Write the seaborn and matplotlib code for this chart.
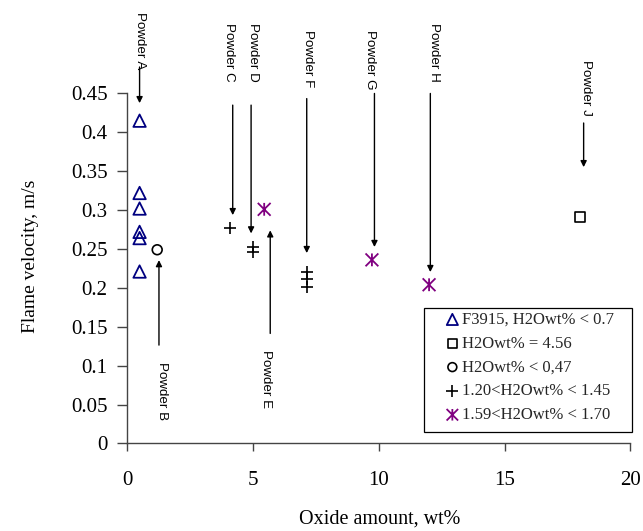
import numpy as np
import pandas as pd
import matplotlib
matplotlib.use("Agg")
import matplotlib.pyplot as plt
from matplotlib.path import Path
from matplotlib.patches import Rectangle
import seaborn as sns

# ---------------- data ----------------
tri_x = [0.5, 0.5, 0.5, 0.5, 0.5, 0.5]
tri_y = [0.415, 0.322, 0.302, 0.272, 0.264, 0.221]
sq_x = [18.0]
sq_y = [0.291]
circ_x = [1.2]
circ_y = [0.249]
plus_x = [4.1, 5.0, 5.0, 7.15, 7.15, 7.15]
plus_y = [0.277, 0.253, 0.246, 0.220, 0.212, 0.201]
star_x = [5.45, 9.73, 12.0]
star_y = [0.301, 0.236, 0.204]

series_labels = ["F3915, H2Owt% < 0.7", "H2Owt% = 4.56", "H2Owt% < 0,47",
                 "1.20<H2Owt% < 1.45", "1.59<H2Owt% < 1.70"]

x_ticks = [0, 5, 10, 15, 20]
y_ticks = [0, 0.05, 0.1, 0.15, 0.2, 0.25, 0.3, 0.35, 0.4, 0.45]
y_tick_labels = ["0", "0.05", "0.1", "0.15", "0.2", "0.25", "0.3", "0.35", "0.4", "0.45"]

# annotations: label, text x, text top y, arrow x, arrow tail y, arrow tip y
ann_labels = ["Powder A", "Powder C", "Powder D", "Powder F", "Powder G",
              "Powder H", "Powder J", "Powder B", "Powder E"]
ann_text_x = [0.5, 4.07, 5.02, 7.21, 9.66, 12.18, 18.25, 1.38, 5.53]
ann_text_y = [0.5545, 0.5404, 0.5404, 0.5312, 0.5312, 0.540, 0.4928, 0.1049, 0.12]
ann_arrow_x = [0.5, 4.2, 4.93, 7.14, 9.83, 12.05, 18.14, 1.27, 5.69]
ann_tail_y = [0.484, 0.435, 0.435, 0.4434, 0.450, 0.450, 0.412, 0.1264, 0.1414]
ann_tip_y = [0.4375, 0.2935, 0.270, 0.2447, 0.2525, 0.2203, 0.3552, 0.2357, 0.274]

# ---------------- style ----------------
sns.set_theme(style="ticks")
plt.rcParams["font.family"] = ["Liberation Serif", "DejaVu Serif"]

fig = plt.figure(figsize=(6.43, 5.31), dpi=100)
ax = fig.add_axes([0.1975, 0.165, 0.783, 0.659])

axis_col = "#444444"
navy = "#000080"
purple = "#800080"

star_path = Path([(-1, -1), (1, 1), (-1, 1), (1, -1), (0, -1), (0, 1)],
                 [Path.MOVETO, Path.LINETO, Path.MOVETO, Path.LINETO, Path.MOVETO, Path.LINETO])

sns.scatterplot(x=tri_x, y=tri_y, ax=ax, marker="^", s=80, color=navy,
                facecolor="none", edgecolor=navy, linewidth=1.3, label=series_labels[0])
sns.scatterplot(x=sq_x, y=sq_y, ax=ax, marker="s", s=58, color="black",
                facecolor="none", edgecolor="black", linewidth=1.2, label=series_labels[1])
sns.scatterplot(x=circ_x, y=circ_y, ax=ax, marker="o", s=50, color="black",
                facecolor="none", edgecolor="black", linewidth=1.2, label=series_labels[2])
sns.scatterplot(x=plus_x, y=plus_y, ax=ax, marker="+", s=78, color="black",
                linewidth=1.2, label=series_labels[3])
sns.scatterplot(x=star_x, y=star_y, ax=ax, marker=star_path, s=85, color=purple,
                facecolor="none", edgecolor=purple, linewidth=1.3, label=series_labels[4])

for lab, tx, ty, axx, t0, t1 in zip(ann_labels, ann_text_x, ann_text_y,
                                    ann_arrow_x, ann_tail_y, ann_tip_y):
    ax.text(tx, ty, lab, rotation=270, ha="center", va="top", fontsize=9.6,
            family=["Liberation Sans", "DejaVu Sans"], color="black", clip_on=False)
    ax.annotate("", xy=(axx, t1), xytext=(axx, t0), annotation_clip=False,
                arrowprops=dict(arrowstyle="-|>", color="black", lw=1.0,
                                mutation_scale=9, shrinkA=0, shrinkB=0))

ax.set_xlim(0, 20)
ax.set_ylim(0, 0.45)
ax.set_xticks(x_ticks)
ax.set_xticklabels([str(v) for v in x_ticks])
ax.set_yticks(y_ticks)
ax.set_yticklabels(y_tick_labels)

for side in ["top", "right"]:
    ax.spines[side].set_visible(False)
for side in ["left", "bottom"]:
    ax.spines[side].set_color(axis_col)
    ax.spines[side].set_linewidth(1.0)
ax.tick_params(axis="y", direction="out", length=7, width=1.0, color=axis_col,
               labelsize=15, pad=7, labelcolor="black")
ax.tick_params(axis="x", direction="out", length=6, width=1.0, color=axis_col,
               labelsize=15, pad=14, labelcolor="black")

ax.set_xlabel("Oxide amount, wt%", fontsize=14.5, color="black")
ax.set_ylabel("Flame velocity, m/s", fontsize=14, color="black")
ax.xaxis.set_label_coords(0.502, -0.188)
ax.yaxis.set_label_coords(-0.175, 0.536)

# legend frame (drawn as a box) and legend entries
frame = Rectangle((0.5905, 0.032), 0.4135, 0.354, transform=ax.transAxes,
                  facecolor="white", edgecolor="black", linewidth=0.9,
                  clip_on=False, zorder=4)
ax.add_patch(frame)
leg = ax.legend(loc="upper left", bbox_to_anchor=(0.633, 0.376), borderaxespad=0,
                fontsize=12, frameon=False, handlelength=0.8,
                handletextpad=0.2, borderpad=0.0, labelspacing=0.47,
                markerscale=0.9)
leg.set_zorder(5)

fig.savefig("out.png", dpi=100)
